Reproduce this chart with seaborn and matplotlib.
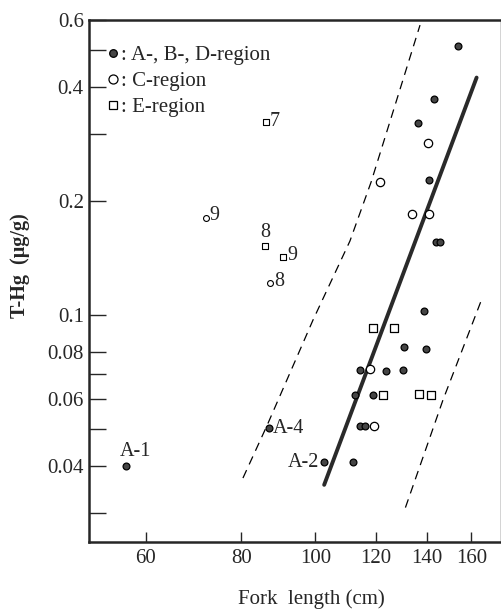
import numpy as np
import pandas as pd
import matplotlib
matplotlib.use("Agg")
import matplotlib.pyplot as plt
import matplotlib.ticker as mticker
from matplotlib.lines import Line2D
import seaborn as sns

# --- data (log-log scatter) ---
# filled circles: A-, B-, D-region
abd_x = [153.7, 143.0, 136.2, 140.8, 143.9, 145.6, 138.7, 130.6, 139.6, 114.4,
         123.7, 130.2, 112.7, 119.0, 114.4, 116.1, 87.0, 102.7, 112.0, 56.5]
abd_y = [0.514, 0.372, 0.321, 0.227, 0.156, 0.156, 0.1025, 0.0823, 0.0813, 0.0716,
         0.0711, 0.0716, 0.0615, 0.0615, 0.0509, 0.0509, 0.0503, 0.0409, 0.0409, 0.0399]

# open circles: C-region
c_x = [140.4, 121.5, 133.8, 140.8, 117.9, 119.3]
c_y = [0.285, 0.2245, 0.185, 0.185, 0.072, 0.0509]
c_num_x = [71.9, 87.3]
c_num_y = [0.181, 0.1215]
c_num_lab = ["9", "8"]

# open squares: E-region
e_x = [119.0, 126.7, 122.6, 136.6, 141.7]
e_y = [0.0924, 0.0924, 0.0615, 0.0618, 0.0615]
e_num_x = [86.2, 85.9, 90.7]
e_num_y = [0.323, 0.152, 0.142]
e_num_lab = ["7", "8", "9"]

# labelled filled points
a_lab = ["A-1", "A-4", "A-2"]
a_x = [56.5, 87.0, 102.7]
a_y = [0.0399, 0.0503, 0.0409]

# regression line and band
fit_x = [102.7, 162.6]
fit_y = [0.0356, 0.424]
upper_x = [80.4, 86.5, 99.3, 111.0, 118.3, 137.1]
upper_y = [0.0371, 0.0512, 0.0970, 0.1569, 0.2245, 0.5834]
lower_x = [131.2, 146.9, 165.1]
lower_y = [0.0310, 0.0596, 0.1100]

x_ticks = [60, 80, 100, 120, 140, 160]
y_ticks = [0.04, 0.06, 0.08, 0.1, 0.2, 0.4, 0.6]
y_tick_labels = ["0.04", "0.06", "0.08", "0.1", "0.2", "0.4", "0.6"]
y_minor = [0.03, 0.05, 0.07, 0.3, 0.5]

sns.set_style("ticks")
plt.rcParams["font.family"] = ["Liberation Serif", "DejaVu Serif"]

fig = plt.figure(figsize=(5.02, 6.10), dpi=100)
ax = fig.add_axes([0.1779, 0.111, 0.8201, 0.8554])

# lines
sns.lineplot(x=fit_x, y=fit_y, ax=ax, color="#2a2a2a", lw=2.8, sort=False, estimator=None)
sns.lineplot(x=upper_x, y=upper_y, ax=ax, color="black", lw=0.9, sort=False,
             estimator=None, linestyle=(0, (7, 5)))
sns.lineplot(x=lower_x, y=lower_y, ax=ax, color="black", lw=0.9, sort=False,
             estimator=None, linestyle=(0, (7, 5)))

# points
sns.scatterplot(x=abd_x, y=abd_y, ax=ax, marker="o", s=24, color="#454545",
                edgecolor="black", linewidth=0.9, zorder=3)
sns.scatterplot(x=c_x, y=c_y, ax=ax, marker="o", s=36, color="white",
                edgecolor="black", linewidth=0.9, zorder=3)
sns.scatterplot(x=c_num_x, y=c_num_y, ax=ax, marker="o", s=18, color="white",
                edgecolor="black", linewidth=0.8, zorder=3)
sns.scatterplot(x=e_x, y=e_y, ax=ax, marker="s", s=26, color="white",
                edgecolor="black", linewidth=0.9, zorder=3)
sns.scatterplot(x=e_num_x, y=e_num_y, ax=ax, marker="s", s=14, color="white",
                edgecolor="black", linewidth=0.8, zorder=3)

# text labels on points
fs = 14.5
ax.annotate(a_lab[0], (a_x[0], a_y[0]), xytext=(-6, 5), textcoords="offset pixels",
            ha="left", va="bottom", fontsize=fs)
ax.annotate(a_lab[1], (a_x[1], a_y[1]), xytext=(4, 0), textcoords="offset pixels",
            ha="left", va="center", fontsize=fs)
ax.annotate(a_lab[2], (a_x[2], a_y[2]), xytext=(-5, 0), textcoords="offset pixels",
            ha="right", va="center", fontsize=fs)
for x, y, t in zip(c_num_x, c_num_y, c_num_lab):
    ax.annotate(t, (x, y), xytext=(4, 2), textcoords="offset pixels",
                ha="left", va="center", fontsize=fs)
ax.annotate(e_num_lab[0], (e_num_x[0], e_num_y[0]), xytext=(4, 1), textcoords="offset pixels",
            ha="left", va="center", fontsize=fs)
ax.annotate(e_num_lab[1], (e_num_x[1], e_num_y[1]), xytext=(0, 4), textcoords="offset pixels",
            ha="center", va="bottom", fontsize=fs)
ax.annotate(e_num_lab[2], (e_num_x[2], e_num_y[2]), xytext=(4, 2), textcoords="offset pixels",
            ha="left", va="center", fontsize=fs)

# scales and ticks
ax.set_xscale("log")
ax.set_yscale("log")
ax.set_xlim(50.6, 175)
ax.set_ylim(0.0251, 0.6)
ax.xaxis.set_major_locator(mticker.FixedLocator(x_ticks))
ax.xaxis.set_major_formatter(mticker.FixedFormatter([str(v) for v in x_ticks]))
ax.xaxis.set_minor_locator(mticker.NullLocator())
ax.yaxis.set_major_locator(mticker.FixedLocator(y_ticks))
ax.yaxis.set_major_formatter(mticker.FixedFormatter(y_tick_labels))
ax.yaxis.set_minor_locator(mticker.FixedLocator(y_minor))
ax.yaxis.set_minor_formatter(mticker.NullFormatter())
ax.tick_params(axis="x", which="major", direction="in", length=7, width=1, labelsize=15, pad=5)
ax.tick_params(axis="y", which="both", direction="in", length=12, width=1, labelsize=15, pad=4)

for side in ["left", "bottom", "top"]:
    ax.spines[side].set_linewidth(1.8)
ax.spines["right"].set_linewidth(1.0)

ax.set_xlabel("Fork  length (cm)", fontsize=15)
ax.xaxis.set_label_coords(0.5385, -0.09)
ax.set_ylabel("T-Hg  (μg/g)", fontsize=14.5, fontweight="bold")
ax.yaxis.set_label_coords(-0.145, 0.53)

# legend
handles = [
    Line2D([], [], marker="o", ls="", ms=5.5, mfc="#454545", mec="black", mew=0.9),
    Line2D([], [], marker="o", ls="", ms=6.5, mfc="white", mec="black", mew=0.9),
    Line2D([], [], marker="s", ls="", ms=6, mfc="white", mec="black", mew=0.9),
]
labels = [": A-, B-, D-region", ": C-region", ": E-region"]
ax.legend(handles, labels, loc="upper left", bbox_to_anchor=(0.042, 0.952), frameon=False,
          fontsize=15, handlelength=0.6, handletextpad=0.1, labelspacing=0.3,
          borderaxespad=0, borderpad=0)

fig.savefig("out.png", dpi=100)
